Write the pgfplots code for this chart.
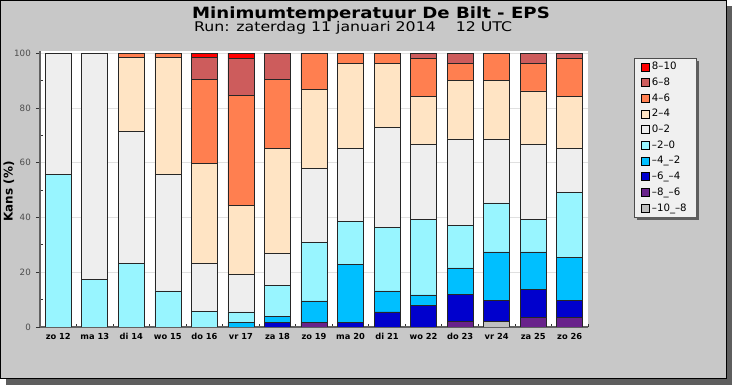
\documentclass[border=0pt]{standalone}
\usepackage{pgfplots}
\pgfplotsset{compat=1.18}
\usepackage{pgfplotstable}
\usepackage{fontspec}
\setmainfont{DejaVu Sans}
\newfontfamily\titlefont[FakeStretch=1.17]{DejaVu Sans}
\newfontfamily\subfont[FakeStretch=1.185]{DejaVu Sans}

\definecolor{panel}{HTML}{C8C8C8}
\definecolor{shadowc}{HTML}{5E5E5E}
\definecolor{cmA}{HTML}{C0C0C0}
\definecolor{cmB}{HTML}{68228B}
\definecolor{cmC}{HTML}{0000CD}
\definecolor{cmD}{HTML}{00BFFF}
\definecolor{cmE}{HTML}{98F5FF}
\definecolor{cpA}{HTML}{EEEEEE}
\definecolor{cpB}{HTML}{FFE4C4}
\definecolor{cpC}{HTML}{FF7F50}
\definecolor{cpD}{HTML}{CD5C5C}
\definecolor{cpE}{HTML}{FF0000}

\pgfplotstableread{
x  m10 m8  m6   m4   m2   p0   p2   p4   p6   p8
0  0   0   0    0    55.7 44.3 0    0    0    0
1  0   0   0    0    17.3 82.7 0    0    0    0
2  0   0   0    0    23.1 48.2 27.0 1.7  0    0
3  0   0   0    0    13.2 42.5 42.6 1.7  0    0
4  0   0   0    0    5.6  17.5 36.5 30.9 7.8  1.7
5  0   0   0    1.7  3.8  13.8 25.0 40.2 13.7 1.8
6  0   0   1.7  2.1  11.5 11.7 38.3 25.2 9.5  0
7  0   1.7 0    7.8  21.4 27.0 28.8 13.3 0    0
8  0   0   1.7  21.3 15.5 26.8 30.9 3.8  0    0
9  0   0   5.5  7.7  23.3 36.5 23.2 3.8  0    0
10 0   0   7.8  3.9  27.5 27.4 17.6 14.0 1.8  0
11 0   1.9 10.0 9.7  15.6 31.5 21.4 6.1  3.8  0
12 1.9 0   7.9  17.6 17.9 23.4 21.4 9.9  0    0
13 0   3.6 10.0 13.8 11.8 27.4 19.6 10.0 3.8  0
14 0   3.6 6.2  15.7 23.5 16.1 19.1 14.0 1.8  0
}\data

\begin{document}
\begin{tikzpicture}
\fill[shadowc] (6pt,0pt) rectangle (732pt,379pt);
\filldraw[fill=panel,draw=black,line width=1pt] (0.5pt,6pt) rectangle (726pt,384.5pt);
\node[anchor=base,inner sep=0pt] at (371pt,366.3pt) {\titlefont\bfseries\fontsize{15.5}{18}\selectfont Minimumtemperatuur De Bilt - EPS};
\node[anchor=base west,inner sep=0pt] at (194pt,353.3pt) {\subfont\fontsize{13.3}{15}\selectfont Run: zaterdag 11 januari 2014\ \ \ \ 12 UTC};
\begin{axis}[
  at={(40pt,58pt)}, anchor=south west,
  scale only axis, width=548pt, height=276pt,
  xmin=-0.5, xmax=14.5, ymin=0, ymax=100.8,
  ybar stacked, bar width=26pt,
  axis background/.style={fill=white},
  axis x line*=bottom, axis y line*=left,
  axis line style={draw=black!62, line width=1.3pt, -},
  tick align=outside,
  major tick length=4pt, minor tick length=3pt,
  tick style={draw=black!80, line width=0.8pt},
  ytick={0,20,...,100}, minor ytick={10,30,...,90},
  minor y tick style={xshift=3pt},
  xtick={0,...,14},
  xticklabels={zo 12,ma 13,di 14,wo 15,do 16,vr 17,za 18,zo 19,ma 20,di 21,wo 22,do 23,vr 24,za 25,zo 26},
  major x tick style={draw=none},
  minor xtick={0.5,1.5,...,14.5},
  minor x tick style={yshift=3pt},
  ymajorgrids, major grid style={draw=black!12, line width=0.8pt},
  /pgf/number format/assume math mode=true,
  yticklabel style={font=\fontsize{8.7}{10}\selectfont, text=black!70, inner sep=1pt, xshift=-4pt},
  xticklabel style={font=\bfseries\fontsize{8.3}{10}\selectfont, inner sep=1pt, yshift=-1pt},
  ylabel={Kans (\%)},
  ylabel style={font=\bfseries\fontsize{12}{14}\selectfont, at={(axis description cs:-0.0566,0.491)}, anchor=center},
  legend style={name=leg, at={(1.0839,0.9746)}, anchor=north west, draw=black!70, fill=black!6,
    font=\fontsize{10.2}{12}\selectfont, row sep=4.2pt, inner xsep=6.5pt, inner ysep=3pt,
    nodes={inner xsep=2.5pt, inner ysep=1pt, text height=7.5pt, text depth=2pt}},
  legend cell align=left,
  reverse legend,
  every axis plot/.append style={draw=black!85, line width=0.7pt},
  every axis plot post/.append style={/pgfplots/legend image code/.code={\draw[#1, draw=black, line width=0.8pt] (0pt,-4pt) rectangle (8pt,4pt);}},
]
\addplot[fill=cmA] table[x=x,y=m10]{\data};
\addplot[fill=cmB] table[x=x,y=m8]{\data};
\addplot[fill=cmC] table[x=x,y=m6]{\data};
\addplot[fill=cmD] table[x=x,y=m4]{\data};
\addplot[fill=cmE] table[x=x,y=m2]{\data};
\addplot[fill=cpA] table[x=x,y=p0]{\data};
\addplot[fill=cpB] table[x=x,y=p2]{\data};
\addplot[fill=cpC] table[x=x,y=p4]{\data};
\addplot[fill=cpD] table[x=x,y=p6]{\data};
\addplot[fill=cpE] table[x=x,y=p8]{\data};
\legend{–10\_–8,–8\_–6,–6\_–4,–4\_–2,–2–0,0–2,2–4,4–6,6–8,8–10}
\end{axis}
\fill[shadowc] ([yshift=-3pt]leg.north east) rectangle ([xshift=3pt,yshift=-3pt]leg.south east);
\fill[shadowc] ([xshift=3pt,yshift=-3pt]leg.south west) rectangle (leg.south east);
\end{tikzpicture}
\end{document}
